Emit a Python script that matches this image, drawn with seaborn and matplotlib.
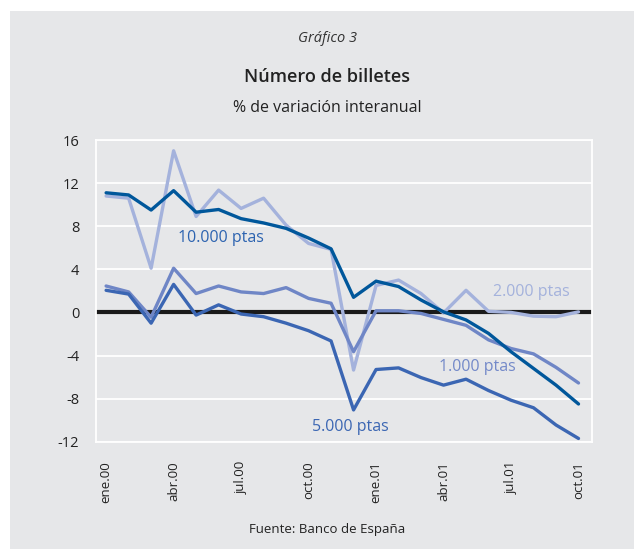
import numpy as np
import pandas as pd
import matplotlib
matplotlib.use("Agg")
import matplotlib.pyplot as plt
import seaborn as sns
from matplotlib.patches import Rectangle

# monthly data, ene.00 .. oct.01
months = ["ene.00", "feb.00", "mar.00", "abr.00", "may.00", "jun.00", "jul.00", "ago.00",
          "sep.00", "oct.00", "nov.00", "dic.00", "ene.01", "feb.01", "mar.01", "abr.01",
          "may.01", "jun.01", "jul.01", "ago.01", "sep.01", "oct.01"]
tick_labels = ["ene.00", "abr.00", "jul.00", "oct.00", "ene.01", "abr.01", "jul.01", "oct.01"]

b10000 = [11.1, 10.9, 9.5, 11.3, 9.3, 9.55, 8.7, 8.3, 7.8, 6.9, 5.9, 1.4,
          2.9, 2.4, 1.15, 0.05, -0.7, -1.95, -3.65, -5.2, -6.75, -8.5]
b5000 = [2.05, 1.7, -1.0, 2.6, -0.25, 0.7, -0.15, -0.4, -1.0, -1.7, -2.65, -9.05,
         -5.3, -5.15, -6.05, -6.75, -6.2, -7.25, -8.15, -8.85, -10.45, -11.7]
b2000 = [10.8, 10.6, 4.1, 15.0, 8.9, 11.35, 9.65, 10.6, 8.1, 6.4, 5.85, -5.35,
         2.5, 3.0, 1.75, -0.05, 2.05, 0.1, 0.0, -0.35, -0.4, 0.05]
b1000 = [2.45, 1.9, -0.45, 4.1, 1.75, 2.45, 1.9, 1.75, 2.3, 1.3, 0.85, -3.65,
         0.15, 0.15, -0.1, -0.65, -1.2, -2.55, -3.35, -3.85, -5.1, -6.55]

bg = "#e6e7e9"
colors = {"2.000 ptas": "#a4b2dc", "1.000 ptas": "#6f86c6",
          "5.000 ptas": "#3b66b3", "10.000 ptas": "#00579b"}
label_colors = {"10.000 ptas": "#2c63b0", "2.000 ptas": "#a4b2dc",
                "1.000 ptas": "#7389c9", "5.000 ptas": "#3b66b3"}

df = pd.DataFrame({"mes": months, "idx": range(len(months)),
                   "10.000 ptas": b10000, "5.000 ptas": b5000,
                   "2.000 ptas": b2000, "1.000 ptas": b1000})
long = df.melt(id_vars=["mes", "idx"], var_name="serie", value_name="valor")

sns.set_style("white")
plt.rcParams["font.family"] = ["Open Sans", "DejaVu Sans"]
plt.rcParams["axes.unicode_minus"] = False

fig = plt.figure(figsize=(6.34, 5.49), dpi=100)
fig.patches.append(Rectangle((10 / 634, 0), 1, 1 - 11 / 549, transform=fig.transFigure,
                             facecolor=bg, edgecolor="none", zorder=-10))
ax = fig.add_axes([96 / 634, 1 - 441.7 / 549, (592 - 96) / 634, (441.7 - 140) / 549])
ax.set_facecolor(bg)

for y in range(-12, 17, 4):
    ax.axhline(y, color="white", lw=1.3, zorder=0)
ax.axhline(0, color="#1a1a1a", lw=3, zorder=1)

sns.lineplot(data=long, x="idx", y="valor", hue="serie", palette=colors,
             hue_order=["2.000 ptas", "1.000 ptas", "5.000 ptas", "10.000 ptas"],
             lw=2.4, legend=False, ax=ax, zorder=3)

ax.text(3.2, 6.9, "10.000 ptas", color=label_colors["10.000 ptas"], fontsize=11.5, va="center")
ax.text(17.2, 1.9, "2.000 ptas", color=label_colors["2.000 ptas"], fontsize=11.5, va="center")
ax.text(14.8, -5.1, "1.000 ptas", color=label_colors["1.000 ptas"], fontsize=11.5, va="center")
ax.text(9.15, -10.65, "5.000 ptas", color=label_colors["5.000 ptas"], fontsize=11.5, va="center")

ax.set_xlim(-0.45, 21.6)
ax.set_ylim(-12, 16)
ax.set_yticks(range(-12, 17, 4))
ax.set_xticks([months.index(t) for t in tick_labels])
ax.set_xticklabels(tick_labels, rotation=90, fontsize=9.5, color="#222222")
ax.tick_params(axis="y", labelsize=10.5, colors="#222222", length=0, pad=12)
ax.tick_params(axis="x", length=0, pad=14)
ax.set_xlabel("")
ax.set_ylabel("")
for s in ax.spines.values():
    s.set_color("white")
    s.set_linewidth(1.3)

fig.text(327 / 634, 1 - 38 / 549, "Gráfico 3", ha="center", va="center",
         fontsize=10.5, style="italic", color="#333333")
fig.text(327 / 634, 1 - 77 / 549, "Número de billetes", ha="center", va="center",
         fontsize=13, fontweight="semibold", color="#222222")
fig.text(327 / 634, 1 - 108 / 549, "% de variación interanual", ha="center", va="center",
         fontsize=11.5, color="#222222")
fig.text(327 / 634, 1 - 530 / 549, "Fuente: Banco de España", ha="center", va="center",
         fontsize=9.5, color="#222222")

fig.savefig("out.png", dpi=100)
